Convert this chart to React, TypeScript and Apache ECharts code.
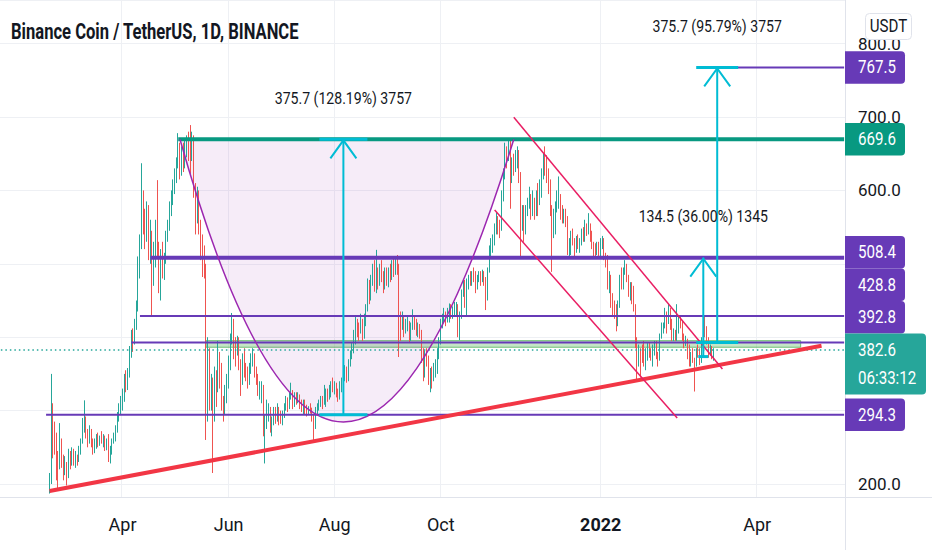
import React, { useEffect, useRef } from 'react';
import * as echarts from 'echarts';

const W = 932;
const H = 550;
const FONT = '"Liberation Sans Narrow", "Roboto", sans-serif';
const INK = '#131722';
const UP = '#26a69a';
const DOWN = '#ef5350';
const PURPLE = '#673ab7';
const TEAL = '#089981';
const CYAN = '#00bcd4';
const RED = '#f23645';
const CRIMSON = '#e91e63';
const CUP = '#9c27b0';
const GRIDC = '#eef0f4';
const FRAME = '#e0e3eb';

const title = 'Binance Coin / TetherUS, 1D, BINANCE';
const currency = 'USDT';

// time axis: categories are days
const AXIS_START = '2021-01-21';
const AXIS_DAYS = 486;
const FIRST_CANDLE = '2021-02-18';
const firstOpen = 195;

const closes = [
  205, 300, 270, 262, 232, 225, 255, 230, 222, 226, 210, // Feb 18-28 2021
  240, 228, 242, 232, 238, 232, 248, 258, 275, 285, 270, 262, 270, 255, 250, 258, 262, 255, 262, 258, 264, 250, 255, 240, 245, 258, 262, 275, 290, 305, 310, // Mar
  318, 340, 335, 350, 380, 400, 395, 415, 440, 500, 525, 595, 555, 540, 570, 520, 530, 480, 505, 540, 520, 490, 510, 495, 505, 535, 550, 575, 590, 600, // Apr
  620, 640, 660, 625, 650, 640, 655, 665, 660, 645, 670, 600, 560, 590, 550, 530, 505, 495, 300, 380, 320, 335, 290, 350, 335, 375, 360, 320, 300, 320, 345, // May
  360, 395, 420, 385, 380, 395, 365, 345, 370, 360, 355, 345, 360, 370, 375, 350, 345, 330, 330, 335, 275, 285, 300, 300, 280, 285, 300, 290, 300, 298, // Jun
  290, 295, 305, 315, 305, 320, 325, 310, 320, 315, 320, 310, 305, 310, 300, 298, 302, 300, 290, 280, 300, 305, 310, 315, 312, 318, 325, 320, 330, 335, 330, // Jul
  330, 325, 320, 335, 340, 345, 355, 345, 365, 375, 385, 395, 420, 415, 410, 420, 400, 425, 440, 470, 460, 480, 490, 470, 490, 475, 495, 480, 470, 485, 475, // Aug
  490, 485, 495, 490, 500, 495, 425, 420, 425, 410, 415, 420, 400, 415, 425, 420, 410, 415, 405, 375, 355, 375, 370, 345, 350, 345, 355, 360, 380, 395, // Sep
  420, 425, 430, 425, 435, 440, 430, 435, 440, 440, 415, 430, 460, 470, 465, 470, 480, 475, 485, 480, 470, 480, 485, 480, 485, 475, 455, 490, 520, 525, 530, // Oct
  545, 560, 555, 550, 590, 620, 650, 645, 660, 615, 635, 630, 640, 645, 620, 560, 570, 545, 575, 580, 590, 575, 585, 570, 590, 580, 605, 620, 640, 630, // Nov
  625, 610, 575, 560, 560, 580, 585, 590, 565, 560, 570, 560, 520, 525, 540, 530, 520, 530, 525, 530, 540, 535, 550, 545, 550, 535, 525, 520, 515, 525, 515, // Dec
  530, 530, 510, 505, 475, 485, 450, 445, 440, 420, 445, 480, 470, 490, 495, 480, 465, 470, 455, 440, 395, 365, 385, 380, 375, 370, 380, 385, 380, 375, 385, // Jan 2022
  390, 375, 370, 400, 410, 415, 430, 420, 430, 415, 400, 405, 400, 410, 425, 420, 400, 395, 395, 375, 365, 375, 370, 365, 380, 378, 370, 395, // Feb
  420, 410, 395, 380, 385, 375, 382.6, // Mar 1-7
];

const highs = [
  215, 350, 310, 285, 270, 245, 283, 262, 240, 238, 230,
  248, 245, 250, 248, 245, 240, 252, 262, 290, 314, 292, 275, 280, 275, 262, 262, 268, 270, 266, 272, 268, 266, 262, 268, 252, 262, 270, 280, 298, 310, 320,
  330, 350, 355, 358, 388, 410, 412, 425, 450, 510, 540, 637, 600, 575, 585, 580, 560, 545, 530, 560, 614, 530, 520, 530, 515, 545, 560, 585, 600, 615,
  630, 645, 678, 665, 660, 665, 670, 675, 680, 689, 680, 675, 610, 605, 600, 560, 540, 525, 500, 400, 385, 350, 345, 360, 355, 395, 380, 365, 320, 335, 350,
  375, 405, 433, 425, 400, 402, 400, 370, 378, 385, 365, 360, 365, 378, 385, 378, 360, 350, 340, 340, 335, 295, 315, 310, 305, 292, 305, 305, 310, 305,
  300, 300, 310, 320, 318, 325, 338, 328, 325, 325, 325, 322, 315, 315, 315, 308, 306, 310, 304, 294, 305, 310, 315, 320, 320, 335, 330, 330, 335, 340, 345,
  340, 338, 330, 340, 345, 352, 362, 360, 370, 382, 392, 410, 430, 425, 420, 432, 425, 432, 445, 480, 478, 485, 500, 505, 519, 495, 500, 505, 490, 495, 495,
  495, 500, 505, 508, 508, 512, 500, 435, 435, 430, 425, 428, 422, 420, 438, 430, 425, 420, 418, 410, 385, 382, 385, 375, 358, 360, 365, 370, 385, 400,
  425, 432, 440, 435, 440, 446, 445, 442, 448, 448, 445, 435, 465, 478, 478, 480, 485, 490, 490, 495, 490, 485, 490, 490, 492, 490, 482, 495, 525, 535, 540,
  555, 570, 565, 560, 600, 630, 665, 660, 669, 668, 645, 650, 655, 660, 655, 625, 580, 580, 580, 590, 605, 595, 600, 590, 600, 610, 615, 630, 650, 660,
  648, 630, 615, 580, 575, 585, 600, 619, 595, 580, 575, 575, 565, 535, 545, 548, 535, 538, 540, 535, 548, 550, 560, 555, 569, 555, 545, 530, 528, 530, 530,
  535, 538, 535, 515, 512, 490, 485, 460, 450, 445, 450, 485, 495, 495, 505, 500, 485, 475, 475, 470, 445, 400, 390, 385, 390, 395, 385, 392, 392, 385, 390,
  395, 395, 380, 405, 420, 420, 440, 435, 446, 440, 425, 412, 410, 445, 430, 430, 422, 405, 402, 398, 390, 380, 385, 372, 385, 390, 385, 400,
  425, 428, 415, 400, 390, 388, 385,
];

const lows = [
  187, 200, 235, 240, 205, 192, 220, 222, 205, 212, 198,
  208, 220, 225, 225, 222, 225, 230, 240, 255, 270, 262, 250, 255, 250, 240, 242, 248, 250, 252, 255, 250, 245, 246, 230, 228, 240, 255, 258, 270, 285, 295,
  300, 312, 325, 328, 345, 372, 380, 390, 410, 435, 480, 520, 540, 520, 530, 505, 500, 430, 470, 495, 510, 460, 450, 480, 478, 500, 530, 545, 565, 580,
  595, 610, 630, 615, 620, 625, 630, 645, 640, 620, 640, 590, 540, 555, 540, 505, 482, 480, 260, 285, 300, 300, 215, 285, 305, 325, 330, 300, 285, 295, 310,
  330, 355, 390, 370, 360, 375, 355, 320, 335, 345, 340, 330, 335, 350, 360, 345, 335, 320, 315, 310, 265, 228, 275, 285, 270, 265, 280, 282, 285, 280,
  282, 280, 290, 300, 298, 302, 315, 302, 305, 308, 310, 302, 298, 295, 295, 292, 294, 296, 285, 260, 275, 295, 300, 305, 302, 308, 305, 312, 315, 318, 325,
  322, 318, 312, 315, 325, 332, 340, 338, 340, 360, 370, 378, 390, 400, 395, 405, 395, 398, 415, 435, 445, 450, 470, 462, 460, 465, 470, 475, 460, 465, 470,
  468, 475, 478, 482, 485, 485, 373, 395, 410, 400, 405, 408, 392, 395, 410, 410, 402, 400, 398, 365, 340, 345, 360, 335, 325, 330, 340, 345, 350, 370,
  390, 412, 420, 415, 420, 420, 425, 425, 430, 430, 400, 396, 425, 455, 440, 428, 465, 470, 470, 475, 460, 465, 475, 470, 475, 470, 437, 450, 488, 510, 515,
  525, 540, 540, 535, 545, 585, 615, 630, 640, 575, 610, 620, 625, 630, 610, 510, 545, 530, 540, 565, 575, 560, 565, 560, 565, 565, 580, 590, 615, 620,
  610, 595, 565, 489, 535, 540, 570, 575, 560, 555, 555, 550, 512, 510, 512, 525, 510, 515, 520, 515, 525, 530, 530, 538, 540, 530, 520, 510, 510, 512, 510,
  510, 520, 505, 495, 465, 460, 440, 430, 425, 408, 415, 440, 465, 465, 485, 475, 455, 450, 445, 435, 385, 342, 360, 345, 365, 360, 355, 368, 372, 368, 360,
  375, 370, 360, 368, 398, 405, 412, 405, 418, 410, 395, 395, 395, 395, 405, 412, 395, 385, 388, 370, 360, 360, 365, 326, 360, 372, 362, 365,
  390, 400, 390, 372, 375, 370, 368,
];

// x-axis tick labels
const tickDates = ['2021-04-01', '2021-06-01', '2021-08-01', '2021-10-01', '2022-01-01', '2022-04-01'];
const tickTexts = ['Apr', 'Jun', 'Aug', 'Oct', '2022', 'Apr'];

// price axis extent
const priceMin = 182.3;
const priceMax = 859.4;

// horizontal levels drawn on the chart
const levelPrices = [767.5, 669.6, 508.4, 428.8, 392.8, 294.3];
const levelStarts = ['2022-03-05', '2021-05-03', '2021-04-17', '2021-04-11', '2021-04-06', '2021-02-16'];

const lastPrice = 382.6;
const countdown = '06:33:12';

// support band
const bandDates = ['2021-05-19', '2022-04-26'];
const bandPrices = [395.3, 386.3];

// rising trend line
const trendDates = ['2021-02-18', '2022-05-08'];
const trendPrices = [190.5, 388.4];

// falling channel
const channelUpDates = ['2021-11-12', '2022-03-12'];
const channelUpPrices = [699.6, 356.7];
const channelLowDates = ['2021-11-01', '2022-02-14'];
const channelLowPrices = [573.3, 290];

// cup arc: start, bottom, end
const cupDates = ['2021-05-04', '2021-08-06', '2021-11-12'];
const cupPrices = [669.6, 284.5, 669.6];

// price range measurements
const rangeDates = ['2021-08-06', '2022-03-09', '2022-03-01'];
const rangeFrom = [294.3, 392.8, 373.6];
const rangeTo = [669.6, 767.5, 508.4];
const rangeTexts = ['375.7 (128.19%) 3757', '375.7 (95.79%) 3757', '134.5 (36.00%) 1345'];

function dayStr(base: string, n: number): string {
  const d = new Date(base + 'T00:00:00Z');
  d.setUTCDate(d.getUTCDate() + n);
  return d.toISOString().slice(0, 10);
}

const GRID = { left: 0, right: 87, top: 0, bottom: 53 };
const NARROW = 0.84; // horizontal squeeze of the reference's label font

export default function App() {
  const ref = useRef<HTMLDivElement>(null);

  useEffect(() => {
    document.body.style.margin = '0';
    if (!ref.current) return;
    const chart = echarts.init(ref.current, null, { renderer: 'svg' });

    const axisDates: string[] = [];
    for (let i = 0; i < AXIS_DAYS; i++) axisDates.push(dayStr(AXIS_START, i));
    const lastDate = axisDates[axisDates.length - 1];
    const firstDate = axisDates[0];

    const candles = closes.map((c, i) => {
      const o = i === 0 ? firstOpen : closes[i - 1];
      const h = Math.max(highs[i], o, c);
      const l = Math.min(lows[i], o, c);
      return [dayStr(FIRST_CANDLE, i), o, c, l, h];
    });

    const isTick = (_: number, v: string) => tickDates.indexOf(v) >= 0;

    const levelColors = [PURPLE, TEAL, PURPLE, PURPLE, PURPLE, PURPLE];
    const levelWidths = [2, 4, 4, 2, 2, 2];

    const lineSeries = (data: any[], color: string, width: number, z: number, type: any = 'solid', extra: any = {}) => ({
      type: 'line',
      data,
      symbol: 'none',
      silent: true,
      z,
      lineStyle: { color, width, type },
      ...extra,
    });

    const series: any[] = [
      {
        type: 'candlestick',
        data: candles,
        encode: { x: 0, y: [1, 2, 3, 4] },
        barWidth: 0.9,
        silent: true,
        z: 2,
        itemStyle: { color: UP, color0: DOWN, borderColor: UP, borderColor0: DOWN, borderWidth: 1 },
      },
      lineSeries([[firstDate, lastPrice], [lastDate, lastPrice]], UP, 1.5, 3, [1.5, 3], {
        markArea: {
          silent: true,
          itemStyle: { color: 'rgba(76,175,80,0.32)', borderColor: 'rgba(76,175,80,0.75)', borderWidth: 1 },
          data: [[{ xAxis: bandDates[0], yAxis: bandPrices[0] }, { xAxis: bandDates[1], yAxis: bandPrices[1] }]],
        },
      }),
      ...levelPrices.map((p, i) => lineSeries([[levelStarts[i], p], [lastDate, p]], levelColors[i], levelWidths[i], 4)),
      lineSeries([[trendDates[0], trendPrices[0]], [trendDates[1], trendPrices[1]]], RED, 4, 5),
      lineSeries([[channelUpDates[0], channelUpPrices[0]], [channelUpDates[1], channelUpPrices[1]]], CRIMSON, 1.5, 5),
      lineSeries([[channelLowDates[0], channelLowPrices[0]], [channelLowDates[1], channelLowPrices[1]]], CRIMSON, 1.5, 5),
    ];

    const yLabel = (hidden: number[]) => (v: number) =>
      Math.abs(v % 100) < 1e-6 && hidden.indexOf(Math.round(v)) < 0 ? v.toFixed(1) : '';

    chart.setOption({
      animation: false,
      backgroundColor: '#ffffff',
      grid: { ...GRID, containLabel: false, outerBoundsMode: 'none' },
      xAxis: {
        type: 'category',
        data: axisDates,
        boundaryGap: true,
        axisLine: { show: false },
        axisTick: { show: false },
        axisLabel: {
          interval: isTick,
          margin: 18,
          color: INK,
          fontSize: 18,
          fontFamily: FONT,
          formatter: (v: string) => {
            const t = tickTexts[tickDates.indexOf(v)] ?? '';
            return v.endsWith('-01-01') ? `{b|${t}}` : t;
          },
          rich: { b: { fontWeight: 'bold', fontSize: 18, fontFamily: FONT, color: INK } },
        },
        splitLine: { show: true, interval: isTick, lineStyle: { color: GRIDC, width: 1 } },
      },
      yAxis: {
        type: 'value',
        position: 'right',
        min: priceMin,
        max: priceMax,
        splitNumber: 7,
        axisLine: { show: false },
        axisTick: { show: false },
        axisLabel: {
          margin: 13,
          color: INK,
          fontSize: 17,
          fontFamily: FONT,
          showMinLabel: false,
          showMaxLabel: false,
          formatter: yLabel([]),
        },
        splitLine: { show: true, lineStyle: { color: GRIDC, width: 1 } },
      },
      series,
    });

    const px = (d: string, v: number) => chart.convertToPixel({ xAxisIndex: 0, yAxisIndex: 0 }, [d, v]) as number[];

    const g: any[] = [];
    const plotRight = W - GRID.right;
    const plotBottom = H - GRID.bottom;

    const label = (text: string, x: number, y: number, opts: any = {}) => ({
      type: 'text', z: opts.z ?? 10, silent: true, x, y, scaleX: opts.scaleX ?? NARROW,
      style: {
        text, fill: opts.fill ?? '#ffffff', fontSize: opts.fontSize ?? 18, fontFamily: FONT,
        fontWeight: opts.fontWeight ?? 'normal',
        textAlign: opts.align ?? 'left', align: opts.align ?? 'left',
        textVerticalAlign: 'middle', verticalAlign: 'middle',
      },
    });

    // frame
    g.push({ type: 'line', z: 6, silent: true, shape: { x1: plotRight + 0.5, y1: 0, x2: plotRight + 0.5, y2: H }, style: { stroke: FRAME, lineWidth: 1 } });
    g.push({ type: 'line', z: 6, silent: true, shape: { x1: 0, y1: plotBottom + 0.5, x2: W, y2: plotBottom + 0.5 }, style: { stroke: FRAME, lineWidth: 1 } });

    // cup arc (quadratic curve through the bottom point)
    const c0 = px(cupDates[0], cupPrices[0]);
    const c1 = px(cupDates[1], cupPrices[1]);
    const c2 = px(cupDates[2], cupPrices[2]);
    const cp = [2 * c1[0] - (c0[0] + c2[0]) / 2, 2 * c1[1] - (c0[1] + c2[1]) / 2];
    const cupShape = { x1: c0[0], y1: c0[1], x2: c2[0], y2: c2[1], cpx1: cp[0], cpy1: cp[1] };
    g.push({ type: 'bezierCurve', z: 1, silent: true, shape: cupShape, style: { fill: 'rgba(156,39,176,0.09)', stroke: null } });
    g.push({ type: 'bezierCurve', z: 5, silent: true, shape: cupShape, style: { fill: null, stroke: CUP, lineWidth: 1.5 } });

    // price range arrows
    const barHalf = [24, 21, 5];
    const topBar = [true, true, false];
    rangeDates.forEach((d, i) => {
      const a = px(d, rangeFrom[i]);
      const b = px(d, rangeTo[i]);
      const x = a[0];
      g.push({ type: 'line', z: 7, silent: true, shape: { x1: x, y1: a[1], x2: x, y2: b[1] }, style: { stroke: CYAN, lineWidth: 2 } });
      g.push({ type: 'polyline', z: 7, silent: true, shape: { points: [[x - 13, b[1] + 19], [x, b[1] + 1], [x + 13, b[1] + 19]] }, style: { stroke: CYAN, lineWidth: 2, fill: null } });
      g.push({ type: 'line', z: 7, silent: true, shape: { x1: x - barHalf[i], y1: a[1], x2: x + barHalf[i], y2: a[1] }, style: { stroke: CYAN, lineWidth: 3 } });
      if (topBar[i]) g.push({ type: 'line', z: 7, silent: true, shape: { x1: x - barHalf[i], y1: b[1], x2: x + barHalf[i], y2: b[1] }, style: { stroke: CYAN, lineWidth: 3 } });
      g.push(label(rangeTexts[i], x, b[1] - 41, { fill: INK, fontSize: 16, align: 'center', scaleX: 0.88, z: 8 }));
    });

    // price axis labels (stacked to avoid overlap)
    const BOX_H = 32.5;
    const lastY = px(firstDate, lastPrice)[1];
    const curTop = lastY - 16.5;
    const curBottom = curTop + 61;
    const boxes = levelPrices.map((p, i) => ({ p, y: px(firstDate, p)[1], color: levelColors[i], top: 0 }));
    const above = boxes.filter((b) => b.y < lastY).sort((a, b) => b.y - a.y);
    let limit = curTop;
    above.forEach((b) => {
      const bottom = Math.min(b.y + BOX_H / 2, limit);
      b.top = bottom - BOX_H;
      limit = b.top;
    });
    const below = boxes.filter((b) => b.y >= lastY).sort((a, b) => a.y - b.y);
    let lim2 = curBottom;
    below.forEach((b) => {
      b.top = Math.max(b.y - BOX_H / 2, lim2);
      lim2 = b.top + BOX_H;
    });
    boxes.forEach((b) => {
      g.push({ type: 'rect', z: 9, silent: true, shape: { x: plotRight, y: b.top, width: 60, height: BOX_H, r: [0, 4, 4, 0] }, style: { fill: b.color } });
      g.push(label(b.p.toFixed(1), plotRight + 13, b.top + BOX_H / 2));
    });
    g.push({ type: 'rect', z: 9, silent: true, shape: { x: plotRight, y: curTop, width: 81, height: 61, r: [0, 4, 4, 0] }, style: { fill: UP } });
    g.push(label(lastPrice.toFixed(1), plotRight + 13, lastY));
    g.push(label(countdown, plotRight + 13, lastY + 28));

    // axis prices hidden behind a price label, as on the original chart
    const spans = boxes.map((b) => [b.top, b.top + BOX_H]).concat([[curTop, curBottom]]);
    const hidden: number[] = [];
    for (let v = 100; v <= 900; v += 100) {
      if (v < priceMin || v > priceMax) continue;
      const y = px(firstDate, v)[1];
      if (spans.some((s) => y > s[0] - 4 && y < s[1] + 4)) hidden.push(v);
    }

    // currency button
    g.push({ type: 'rect', z: 11, silent: true, shape: { x: 865.5, y: 13.5, width: 46, height: 26, r: 4 }, style: { fill: '#ffffff', stroke: FRAME, lineWidth: 1 } });
    g.push(label(currency, 888.5, 26.5, { fill: INK, align: 'center', z: 12 }));

    // title, fitted to its width in the reference
    let sx = 0.86;
    try {
      const ctx = document.createElement('canvas').getContext('2d');
      if (ctx) {
        ctx.font = `bold 22px ${FONT}`;
        const w = ctx.measureText(title).width;
        if (w > 0) sx = 288 / w;
      }
    } catch (e) {
      /* keep default */
    }
    g.push(label(title, 11, 32, { fill: INK, fontSize: 22, fontWeight: 'bold', scaleX: sx, z: 12 }));

    chart.setOption({ yAxis: { axisLabel: { formatter: yLabel(hidden) } }, graphic: { elements: g } });

    return () => chart.dispose();
  }, []);

  return <div ref={ref} style={{ width: W, height: H }} />;
}
